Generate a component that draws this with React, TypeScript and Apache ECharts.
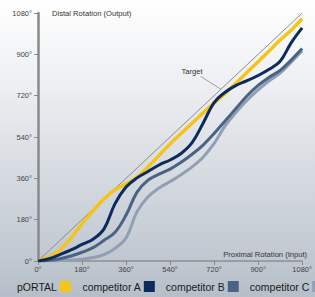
import React, { useEffect, useRef } from "react";
import * as echarts from "echarts";

const inputDeg = [0, 45, 90, 135, 180, 225, 270, 315, 360, 405, 450, 495, 540, 585, 630, 675, 720, 765, 810, 855, 900, 945, 990, 1035, 1080];
const portal = [0, 18, 48, 100, 162, 218, 270, 310, 335, 365, 410, 460, 510, 555, 600, 645, 688, 730, 775, 822, 868, 915, 962, 1005, 1055];
const compA = [0, 10, 28, 48, 72, 95, 140, 250, 322, 362, 390, 418, 440, 468, 515, 600, 690, 735, 765, 785, 808, 835, 870, 950, 1015];
const compB = [0, 3, 10, 22, 38, 58, 90, 125, 200, 300, 352, 378, 400, 430, 465, 505, 555, 610, 665, 720, 765, 800, 830, 875, 925];
const compC = [0, 0, 2, 4, 8, 15, 28, 55, 100, 215, 280, 318, 346, 376, 410, 452, 512, 588, 648, 700, 745, 785, 818, 866, 916];
const targetX = [0, 1080];
const targetY = [0, 1080];
const degTicks = [0, 180, 360, 540, 720, 900, 1080];
const seriesNames = ["pORTAL", "competitor A", "competitor B", "competitor C"];
const targetLabelAt = [630, 826];
const leaderFrom = [665, 804];
const leaderTo = [748, 748];

const FONT = "'Liberation Sans', Arial, Helvetica, sans-serif";

export default function App() {
  const ref = useRef<HTMLDivElement>(null);
  useEffect(() => {
    if (!ref.current) return;
    const chart = echarts.init(ref.current, undefined, { renderer: "svg" });
    const pairs = (ys: number[]) => inputDeg.map((x, i) => [x, ys[i]]);
    const fmt = (v: number) => (degTicks.includes(v) ? `${v}°` : "");
    const axisCommon = {
      type: "value" as const,
      min: 0,
      max: 1080,
      interval: 180,
      splitLine: { show: false },
      axisTick: { show: true, length: 4, lineStyle: { color: "#8a8a8a", width: 1 } },
      axisLabel: { fontSize: 7.5, color: "#444", fontFamily: FONT, formatter: fmt },
    };
    chart.setOption({
      animation: false,
      backgroundColor: new echarts.graphic.LinearGradient(0, 0, 0, 1, [
        { offset: 0, color: "#ffffff" },
        { offset: 0.3, color: "#eceef1" },
        { offset: 1, color: "#b6bfc9" },
      ]),
      textStyle: { fontFamily: FONT },
      grid: { left: 38, right: 8, top: 13, bottom: 36 },
      xAxis: {
        ...axisCommon,
        axisLine: { show: true, lineStyle: { color: "#8f8f8f", width: 1.5 } },
        axisLabel: { ...axisCommon.axisLabel, margin: 4 },
        name: "Proximal Rotation (Input)",
        nameLocation: "end",
        nameGap: 5,
        nameTextStyle: { fontSize: 7.6, color: "#333", fontFamily: FONT, align: "right", verticalAlign: "bottom", padding: [0, 0, 3, 0] },
      },
      yAxis: {
        ...axisCommon,
        axisLine: { show: true, lineStyle: { color: "#8a8a8a", width: 2.5 } },
        axisLabel: { ...axisCommon.axisLabel, margin: 6 },
        name: "Distal Rotation (Output)",
        nameLocation: "end",
        nameGap: 0,
        nameTextStyle: { fontSize: 7.6, color: "#333", fontFamily: FONT, align: "left", verticalAlign: "middle", padding: [0, 0, 0, 14] },
      },
      legend: {
        data: seriesNames,
        left: 17,
        top: 281,
        width: 400,
        orient: "horizontal",
        align: "right",
        icon: "rect",
        itemWidth: 11,
        itemHeight: 11,
        itemGap: 11,
        padding: 0,
        textStyle: { fontSize: 10.5, color: "#1a1a1a", fontFamily: FONT, padding: [0, -2, 0, 0] },
      },
      series: [
        {
          name: "Target",
          type: "line",
          data: targetX.map((x, i) => [x, targetY[i]]),
          symbol: "none",
          lineStyle: { color: "#8c8c8c", width: 1 },
          z: 1,
        },
        {
          name: "competitor C",
          type: "line",
          data: pairs(compC),
          smooth: 0.4,
          symbol: "none",
          color: "#909fb3",
          lineStyle: { color: "#909fb3", width: 3 },
          z: 2,
        },
        {
          name: "competitor B",
          type: "line",
          data: pairs(compB),
          smooth: 0.4,
          symbol: "none",
          color: "#4a6384",
          lineStyle: { color: "#4a6384", width: 3 },
          z: 3,
        },
        {
          name: "pORTAL",
          type: "line",
          data: pairs(portal),
          smooth: 0.4,
          symbol: "none",
          color: "#f6c419",
          lineStyle: { color: "#f6c419", width: 3.5 },
          z: 4,
        },
        {
          name: "competitor A",
          type: "line",
          data: pairs(compA),
          smooth: 0.4,
          symbol: "none",
          color: "#0c2b5c",
          lineStyle: { color: "#0c2b5c", width: 3 },
          z: 5,
        },
      ],
    });
    const t = chart.convertToPixel({ gridIndex: 0 }, targetLabelAt) as number[];
    const a = chart.convertToPixel({ gridIndex: 0 }, leaderFrom) as number[];
    const b = chart.convertToPixel({ gridIndex: 0 }, leaderTo) as number[];
    chart.setOption({
      graphic: [
        {
          type: "text",
          x: t[0],
          y: t[1],
          style: { text: "Target", fontSize: 7.6, fill: "#333", fontFamily: FONT, align: "center", verticalAlign: "middle" },
        },
        {
          type: "line",
          shape: { x1: a[0], y1: a[1], x2: b[0], y2: b[1] },
          style: { stroke: "#8c8c8c", lineWidth: 0.8 },
        },
      ],
    });
    return () => chart.dispose();
  }, []);
  return <div ref={ref} style={{ position: "fixed", left: 0, top: 0, width: 315, height: 297 }} />;
}
